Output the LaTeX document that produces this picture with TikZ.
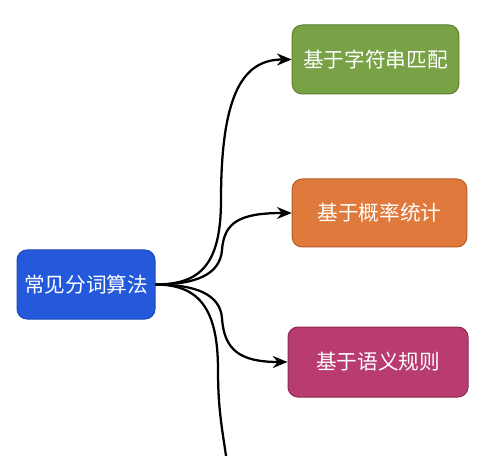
\documentclass[tikz,border=0pt]{standalone}
\usepackage{fontspec}
\newfontfamily\cjk{Noto Sans CJK SC}
\usetikzlibrary{arrows.meta}
\definecolor{rootblue}{HTML}{2459DC}
\definecolor{rootborder}{HTML}{1E4AB8}
\definecolor{greenfill}{HTML}{78A245}
\definecolor{greenborder}{HTML}{5B7F30}
\definecolor{orangefill}{HTML}{DF793C}
\definecolor{orangeborder}{HTML}{B55B25}
\definecolor{magentafill}{HTML}{B83C6F}
\definecolor{magentaborder}{HTML}{8F2A52}
\tikzset{
  box/.style={rounded corners=7.5pt, line width=0.75pt, text=white,
    font=\cjk\fontsize{15.5pt}{18pt}\selectfont, inner sep=0pt, align=center},
  link/.style={line width=1.7pt, -{Stealth[length=11pt,width=9pt]}},
}
\begin{document}
\begin{tikzpicture}[x=0.75pt,y=-0.75pt]
\clip (0,0) rectangle (500,456);
\fill[white] (0,0) rectangle (500,456);
\node[box, fill=rootblue, draw=rootborder, minimum width=103.5pt, minimum height=51.75pt] (root) at (86,284.5) {常见分词算法};
\node[box, fill=greenfill, draw=greenborder, minimum width=125pt, minimum height=51.75pt] (g) at (375.5,59.5) {基于字符串匹配};
\node[box, fill=orangefill, draw=orangeborder, minimum width=131pt, minimum height=51pt] (o) at (379.5,213) {基于概率统计};
\node[box, fill=magentafill, draw=magentaborder, minimum width=135pt, minimum height=52.5pt] (m) at (378,362) {基于语义规则};
\coordinate (down) at (229,480);
\draw[link] (root.east) .. controls (200,284.5) and (221,265) .. (221,200) .. controls (221,90) and (245,59.5) .. (g.west);
\draw[link] (root.east) .. controls (195,284.5) and (220,275) .. (222,250) .. controls (224,222) and (240,213) .. (o.west);
\draw[link] (root.east) .. controls (195,284.5) and (220,294) .. (222,318) .. controls (224,350) and (240,362) .. (m.west);
\draw[line width=1.7pt] (root.east) .. controls (200,284.5) and (218,310) .. (218,370) .. controls (218,420) and (225,440) .. (down);
\end{tikzpicture}
\end{document}
